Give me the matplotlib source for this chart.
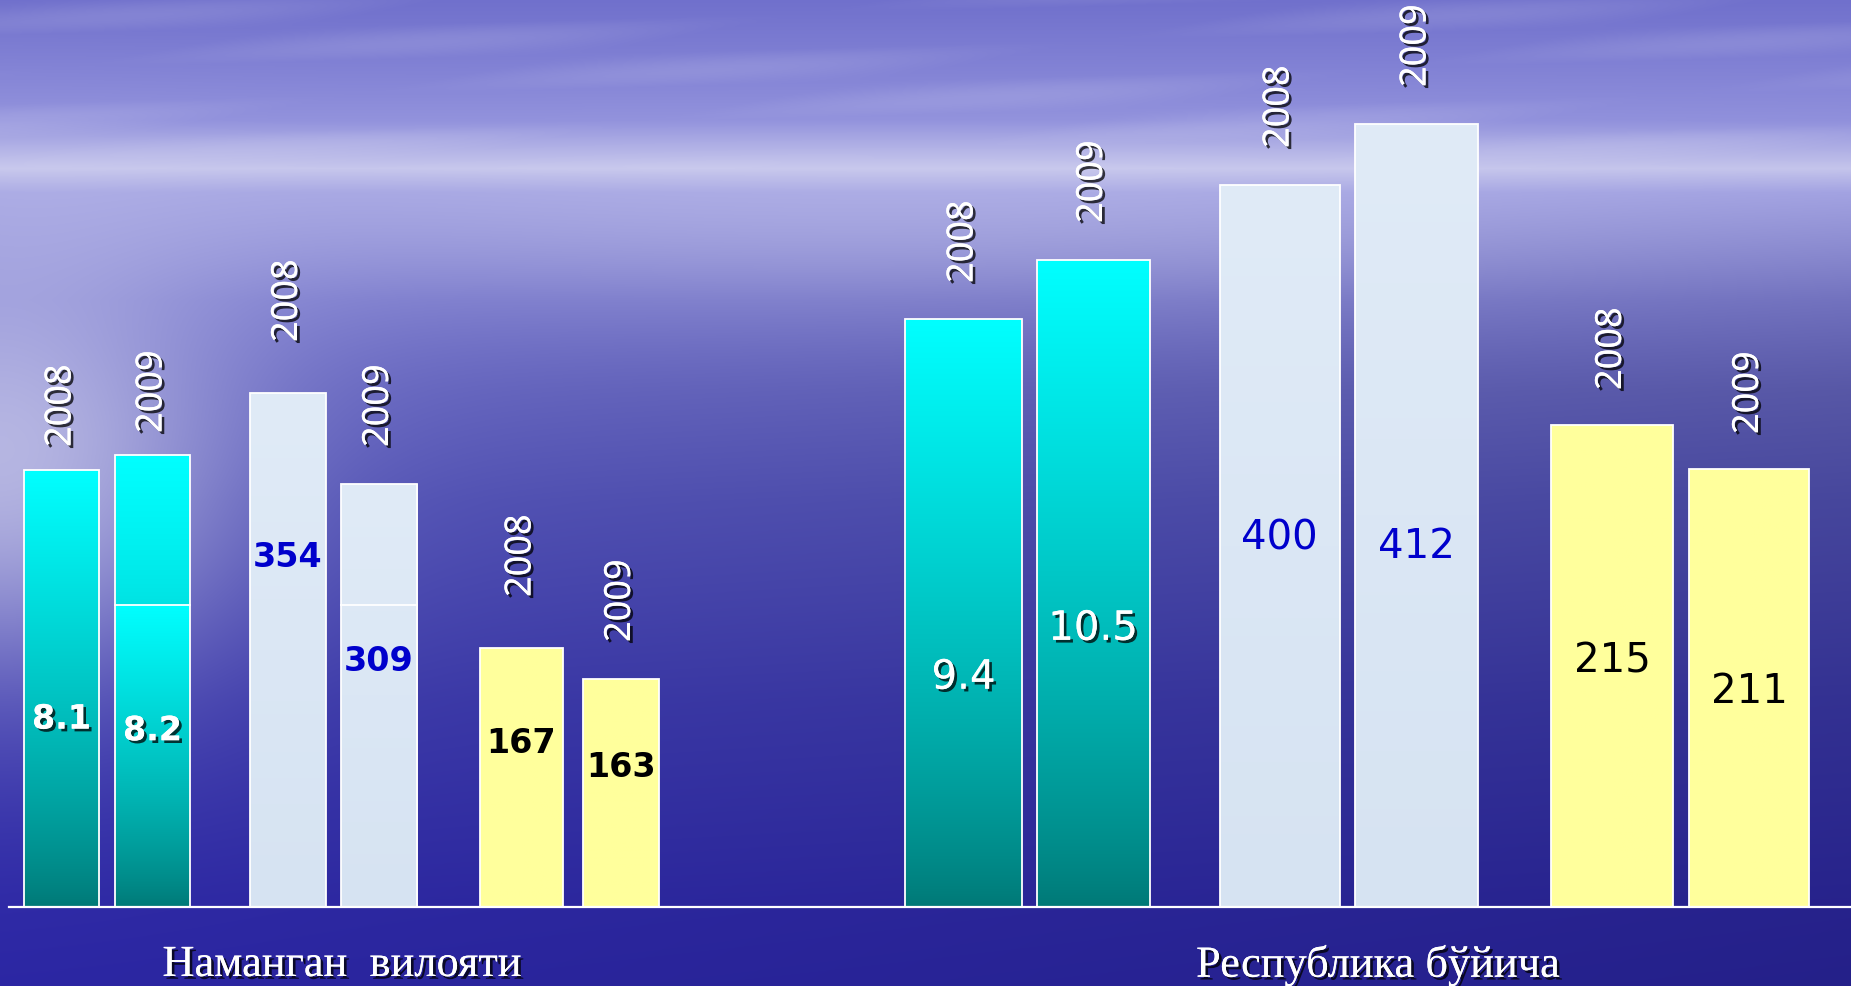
import matplotlib
matplotlib.use("Agg")
import matplotlib.pyplot as plt
import numpy as np
from matplotlib import patheffects as pe

# ---- data ----
regions = ["Наманган  вилояти", "Республика бўйича"]
years = ["2008", "2009", "2008", "2009", "2008", "2009",
         "2008", "2009", "2008", "2009", "2008", "2009"]
value_labels = ["8.1", "8.2", "354", "309", "167", "163",
                "9.4", "10.5", "400", "412", "215", "211"]
# bar heights as drawn on the slide (not to a common scale)
bar_heights = [437, 452, 514, 423, 259, 228, 588, 647, 722, 783, 482, 438]
series_kind = ["cyan", "cyan", "pale", "pale", "yellow", "yellow",
               "cyan", "cyan", "pale", "pale", "yellow", "yellow"]

# ---- layout ----
bar_centers = [61.5, 152.5, 288, 379, 521.5, 621,
               963.5, 1093, 1279.5, 1416.5, 1612, 1749]
bar_widths = [75, 75, 76, 76, 83, 76, 117, 113, 120, 123, 122, 120]
year_gaps = [23, 22, 51, 37, 51, 37, 36, 37, 37, 37, 35, 35]
label_frac = [0.43, 0.39, 0.68, 0.58, 0.63, 0.61,
              0.39, 0.43, 0.51, 0.46, 0.51, 0.49]
split_height = {1: 302, 3: 302}
region_x = [342, 1378]

W, H = 1851, 986
BASE = 79  # pixels below the baseline

fig = plt.figure(figsize=(W / 100, H / 100), dpi=100)
ax = fig.add_axes([0, 0, 1, 1])
ax.set_xlim(0, W)
ax.set_ylim(-BASE, H - BASE)
ax.axis("off")

# ---- background: sky / sea gradient ----
yy, xx = np.mgrid[0:H, 0:W].astype(float)
stops_y = [0, 60, 120, 168, 192, 300, 500, 700, 907, 986]
stops_c = np.array([
    [0.44, 0.44, 0.80],
    [0.50, 0.50, 0.83],
    [0.56, 0.56, 0.86],
    [0.76, 0.76, 0.92],
    [0.62, 0.62, 0.88],
    [0.47, 0.47, 0.81],
    [0.33, 0.33, 0.73],
    [0.24, 0.23, 0.68],
    [0.18, 0.16, 0.65],
    [0.17, 0.15, 0.64],
])
col = np.stack([np.interp(yy[:, 0], stops_y, stops_c[:, k]) for k in range(3)], axis=-1)
img = np.broadcast_to(col[:, None, :], (H, W, 3)).copy()
dark = 1 - 0.16 * (xx / W) * np.clip((yy - 190) / 200, 0, 1)
img *= dark[..., None]
clouds = np.clip(np.sin(xx / 140.0 + yy / 25.0) * np.sin(yy / 11.0 + xx / 420.0), 0, 1)
clouds *= 0.11 * np.clip((175 - yy) / 40, 0, 1)
img += clouds[..., None] * (1 - img)
glow = 0.55 * np.exp(-(xx / 240.0) ** 2 - ((yy - 470) / 210.0) ** 2)
glow += 0.18 * np.exp(-((xx - 900) / 900.0) ** 2 - ((yy - 230) / 90.0) ** 2)
img += glow[..., None] * (1 - img)
ax.imshow(np.clip(img, 0, 1), extent=[0, W, -BASE, H - BASE], aspect="auto",
          origin="upper", zorder=0)


def gradient(ax, x0, x1, y0, y1, top, bottom, gamma=0.8):
    t = np.linspace(0, 1, 256) ** gamma
    top = np.array(matplotlib.colors.to_rgb(top))
    bottom = np.array(matplotlib.colors.to_rgb(bottom))
    g = bottom[None, :] + t[:, None] * (top - bottom)[None, :]
    ax.imshow(g[::-1, None, :], extent=[x0, x1, y0, y1], aspect="auto",
              origin="upper", zorder=2)


shadow = [pe.withSimplePatchShadow(offset=(2, -2), shadow_rgbFace="black", alpha=0.75),
          pe.Normal()]

bars = ax.bar(bar_centers, bar_heights, width=bar_widths, color="none",
              edgecolor="white", linewidth=1.3, zorder=3)

for i, rect in enumerate(bars):
    x0, x1 = rect.get_x(), rect.get_x() + rect.get_width()
    h = rect.get_height()
    kind = series_kind[i]
    if kind == "cyan":
        if i in split_height:
            s = split_height[i]
            gradient(ax, x0, x1, 0, s, "#00ffff", "#007876")
            gradient(ax, x0, x1, s, h, "#00ffff", "#00e2e2")
        else:
            gradient(ax, x0, x1, 0, h, "#00ffff", "#007876")
    elif kind == "pale":
        gradient(ax, x0, x1, 0, h, "#e0ebf7", "#d6e3f2", gamma=1)
    else:
        gradient(ax, x0, x1, 0, h, "#ffff9c", "#ffff9c", gamma=1)
    if i in split_height:
        ax.plot([x0, x1], [split_height[i]] * 2, color="white", lw=1.3, zorder=4)

    right = i >= 6
    cx = rect.get_x() + rect.get_width() / 2
    ax.text(cx, h + year_gaps[i], years[i], rotation=90, ha="center", va="bottom",
            fontsize=26, color="white", family="Noto Sans", zorder=5,
            path_effects=shadow)

    if kind == "cyan":
        tcolor, peff = "white", shadow
    elif kind == "pale":
        tcolor, peff = "#0000cc", None
    else:
        tcolor, peff = "black", None
    ax.text(cx, h * label_frac[i], value_labels[i], ha="center", va="center",
            fontsize=29 if right else 24, fontweight="normal" if right else "bold",
            color=tcolor, family="DejaVu Sans", zorder=5, path_effects=peff)

ax.plot([9, W], [0, 0], color="white", lw=1.6, zorder=4)

for x, name in zip(region_x, regions):
    ax.text(x, -58, name, ha="center", va="center", fontsize=32, color="white",
            family="Liberation Serif", zorder=5, path_effects=shadow)

fig.savefig("out.png", dpi=100)
